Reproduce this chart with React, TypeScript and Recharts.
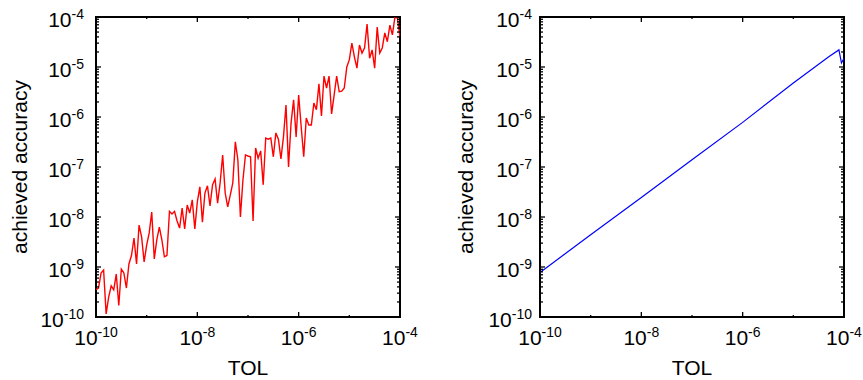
import React from "react";
import { LineChart, Line, XAxis, YAxis, ReferenceArea } from "recharts";

const FONT = "'Liberation Sans', Arial, Helvetica, sans-serif";

// decade ticks on both axes, labels only on every second x decade
const DECADES = [1e-10, 1e-9, 1e-8, 1e-7, 1e-6, 1e-5, 1e-4];
const X_LABELED = [-10, -8, -6, -4];
const Y_TICKS = DECADES.slice(0, 6)
  .map((d) => [1, 2, 3, 4, 5, 6, 7, 8, 9].map((m) => m * d))
  .flat()
  .concat([1e-4]);

// left panel: achieved accuracy, TOL grid of 20 points per decade
const RED_ACC = [
  3.5e-10, 3.8e-10, 7.6e-10, 8.7e-10, 1.15e-10, 2.5e-10, 4.2e-10, 3.5e-10, 7.2e-10, 1.7e-10,
  9.1e-10, 7.6e-10, 3.8e-10, 1.15e-9, 1.7e-9, 3.8e-9, 1.15e-9, 6.9e-9, 4.0e-9, 1.26e-9,
  2.75e-9, 4.8e-9, 1.26e-8, 1.45e-9, 3.5e-9, 6.3e-9, 3.5e-9, 1.6e-9, 1.7e-9, 1.3e-8,
  1.15e-8, 1.3e-8, 8.3e-9, 6.0e-9, 1.5e-8, 5.75e-9, 1.74e-8, 1.2e-8, 2.2e-8, 5.75e-9,
  2.0e-8, 4.0e-8, 7.9e-9, 3.0e-8, 4.2e-8, 1.66e-8, 4.4e-8, 5.75e-8, 1.9e-8, 4.8e-8,
  1.74e-7, 3.0e-8, 1.6e-8, 2.75e-8, 4.8e-8, 3.2e-7, 1.4e-7, 1.0e-8, 5.5e-8, 1.74e-7,
  1.66e-7, 1.6e-7, 8.3e-9, 2.4e-7, 1.5e-7, 2.1e-7, 4.4e-8, 3.8e-7, 3.6e-7, 3.8e-7,
  1.6e-7, 4.8e-7, 3.6e-7, 1.45e-7, 4.0e-7, 1.74e-6, 1.0e-7, 7.6e-7, 2.2e-6, 4.0e-7,
  2.75e-6, 6.3e-7, 1.6e-7, 9.5e-7, 6.9e-7, 6.9e-7, 1.9e-6, 1.4e-6, 4.6e-6, 1.05e-6,
  6.6e-6, 3.8e-6, 6.6e-6, 1.15e-6, 2.75e-6, 6.6e-6, 3.2e-6, 3.3e-6, 3.8e-6, 1.0e-5,
  1.4e-5, 3.0e-5, 1.6e-5, 9.5e-6, 2.75e-5, 1.9e-5, 2.4e-5, 7.2e-5, 1.5e-5, 2.2e-5,
  9.5e-6, 6.3e-5, 1.9e-5, 2.4e-5, 4.8e-5, 3.2e-5, 6.9e-5, 4.4e-5, 1.0e-4, 9.5e-5,
  4.0e-5,
];
const RED_TOL = RED_ACC.map((_, i) => Math.pow(10, -10 + i / 20));

// right panel: almost straight line with a small dip at the end
const BLUE_TOL = [1e-10, 1e-9, 1e-8, 1e-7, 1e-6, 1e-5, 5e-5, 7.94e-5, 8.91e-5, 1e-4];
const BLUE_ACC = [7.8e-10, 4.4e-9, 2.45e-8, 1.4e-7, 7.8e-7, 4.8e-6, 1.6e-5, 2.2e-5, 1.2e-5, 1.5e-5];

const redData = RED_TOL.map((tol, i) => ({ tol, acc: RED_ACC[i] }));
const blueData = BLUE_TOL.map((tol, i) => ({ tol, acc: BLUE_ACC[i] }));

const PLOT_LEFT = 96;
const PLOT_TOP = 17;
const PLOT_W = 304;
const PLOT_H = 300;

function XTick(props: any) {
  const { x, y, payload } = props;
  const e = Math.round(Math.log10(payload.value));
  const labeled = X_LABELED.indexOf(e) >= 0;
  const len = labeled ? 5 : 2;
  return (
    <g>
      <line x1={x} x2={x} y1={y} y2={y - len} stroke="#000" strokeWidth={1.3} />
      <line x1={x} x2={x} y1={y - PLOT_H} y2={y - PLOT_H + len} stroke="#000" strokeWidth={1.3} />
      {labeled && (
        <text x={x} y={y + 28} textAnchor="middle" fontSize={21} fontFamily={FONT} fill="#000">
          10
          <tspan dy={-8} fontSize={14}>
            {e}
          </tspan>
        </text>
      )}
    </g>
  );
}

function makeYTick(gap: number) {
  return function YTick(props: any) {
    const { x, y, payload } = props;
    const lg = Math.log10(payload.value);
    const e = Math.round(lg);
    const major = Math.abs(lg - e) < 1e-6;
    const len = major ? 5 : 3;
    return (
      <g>
        <line x1={x} x2={x + len} y1={y} y2={y} stroke="#000" strokeWidth={1.3} />
        <line x1={x + PLOT_W} x2={x + PLOT_W - len} y1={y} y2={y} stroke="#000" strokeWidth={1.3} />
        {major && (
          <text x={x - gap} y={y + 10} textAnchor="end" fontSize={21} fontFamily={FONT} fill="#000">
            10
            <tspan dy={-8} fontSize={14}>
              {e}
            </tspan>
          </text>
        )}
      </g>
    );
  };
}

function Panel(props: { data: any[]; color: string; width: number; gap: number; titleX: number; lineWidth: number }) {
  const { data, color, width, gap, titleX, lineWidth } = props;
  return (
    <LineChart
      width={width}
      height={380}
      data={data}
      margin={{ top: PLOT_TOP, right: width - PLOT_LEFT - PLOT_W, bottom: 0, left: 0 }}
    >
      <XAxis
        dataKey="tol"
        type="number"
        scale="log"
        domain={[1e-10, 1e-4]}
        ticks={DECADES}
        interval={0}
        allowDataOverflow
        height={380 - PLOT_TOP - PLOT_H}
        tickSize={0}
        tickMargin={0}
        tickLine={false}
        axisLine={false}
        tick={<XTick />}
      />
      <YAxis
        type="number"
        scale="log"
        domain={[1e-10, 1e-4]}
        ticks={Y_TICKS}
        interval={0}
        allowDataOverflow
        width={PLOT_LEFT}
        tickSize={0}
        tickMargin={0}
        tickLine={false}
        axisLine={false}
        tick={makeYTick(gap)}
      />
      <ReferenceArea
        x1={1e-10}
        x2={1e-4}
        y1={1e-10}
        y2={1e-4}
        fill="none"
        fillOpacity={0}
        stroke="#000"
        strokeWidth={2}
        ifOverflow="extendDomain"
      />
      <Line
        dataKey="acc"
        type="linear"
        stroke={color}
        strokeWidth={lineWidth}
        dot={false}
        isAnimationActive={false}
      />
      <text
        x={PLOT_LEFT + PLOT_W / 2}
        y={375}
        textAnchor="middle"
        fontSize={21}
        fontFamily={FONT}
        fill="#000"
      >
        TOL
      </text>
      <text
        x={titleX}
        y={PLOT_TOP + PLOT_H / 2}
        textAnchor="middle"
        fontSize={21}
        fontFamily={FONT}
        fill="#000"
        transform={`rotate(-90, ${titleX}, ${PLOT_TOP + PLOT_H / 2})`}
      >
        achieved accuracy
      </text>
    </LineChart>
  );
}

export default function App() {
  return (
    <div style={{ position: "absolute", left: 0, top: 0, width: 863, height: 380, background: "#fff" }}>
      <div style={{ position: "absolute", left: 0, top: 0 }}>
        <Panel data={redData} color="#ff0000" width={431} gap={12} titleX={27} lineWidth={1.4} />
      </div>
      <div style={{ position: "absolute", left: 444, top: 0 }}>
        <Panel data={blueData} color="#0000ff" width={419} gap={8} titleX={29} lineWidth={1.2} />
      </div>
    </div>
  );
}
